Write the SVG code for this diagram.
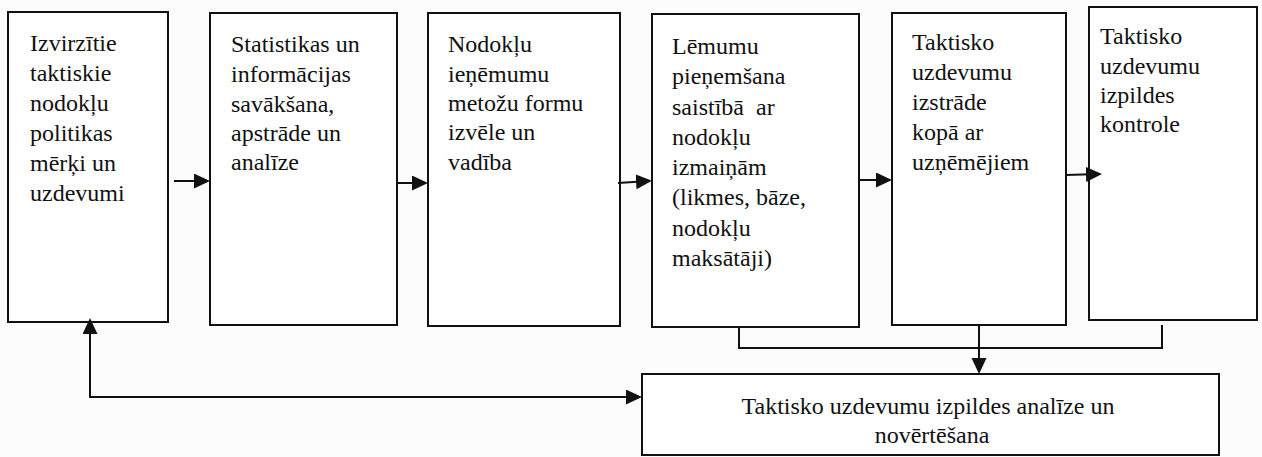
<svg xmlns="http://www.w3.org/2000/svg" width="1262" height="457" viewBox="0 0 1262 457">
  <style>
    .box { fill: #ffffff; stroke: #111111; stroke-width: 2; }
    .lbl { font-family: 'Liberation Serif', Tinos, 'Times New Roman', 'DejaVu Serif', serif; font-size: 24px; fill: #111111; }
    .wire { fill: none; stroke: #111111; stroke-width: 2; }
  </style>
  <defs>
    <marker id="head" markerUnits="userSpaceOnUse" markerWidth="16" markerHeight="16" refX="13" refY="7.5" orient="auto-start-reverse">
      <path d="M0,0 L16,7.5 L0,15 Z" fill="#111111"/>
    </marker>
  </defs>

  <rect x="0" y="0" width="1262" height="457" fill="#fcfcfc"/>

  <g id="goals">
    <rect class="box" x="8" y="12" width="160" height="310"/>
    <text class="lbl">
      <tspan x="30" y="51">Izvirzītie</tspan>
      <tspan x="30" y="81">taktiskie</tspan>
      <tspan x="30" y="111">nodokļu</tspan>
      <tspan x="30" y="141">politikas</tspan>
      <tspan x="30" y="171">mērķi un</tspan>
      <tspan x="30" y="201">uzdevumi</tspan>
    </text>
  </g>

  <g id="statistics">
    <rect class="box" x="210" y="13" width="187" height="312"/>
    <text class="lbl">
      <tspan x="231" y="52">Statistikas un</tspan>
      <tspan x="231" y="82">informācijas</tspan>
      <tspan x="231" y="112">savākšana,</tspan>
      <tspan x="231" y="141">apstrāde un</tspan>
      <tspan x="231" y="170">analīze</tspan>
    </text>
  </g>

  <g id="methods">
    <rect class="box" x="428" y="13" width="192" height="313"/>
    <text class="lbl">
      <tspan x="448" y="52">Nodokļu</tspan>
      <tspan x="448" y="82">ieņēmumu</tspan>
      <tspan x="448" y="111">metožu formu</tspan>
      <tspan x="448" y="140">izvēle un</tspan>
      <tspan x="448" y="170">vadība</tspan>
    </text>
  </g>

  <g id="decisions">
    <rect class="box" x="652" y="14" width="207" height="313"/>
    <text class="lbl">
      <tspan x="672" y="54">Lēmumu</tspan>
      <tspan x="672" y="84">pieņemšana</tspan>
      <tspan x="672" y="115" xml:space="preserve">saistībā  ar</tspan>
      <tspan x="672" y="145">nodokļu</tspan>
      <tspan x="672" y="175">izmaiņām</tspan>
      <tspan x="672" y="205">(likmes, bāze,</tspan>
      <tspan x="672" y="236">nodokļu</tspan>
      <tspan x="672" y="266">maksātāji)</tspan>
    </text>
  </g>

  <g id="tasks">
    <rect class="box" x="892" y="13" width="174" height="312"/>
    <text class="lbl">
      <tspan x="912" y="50">Taktisko</tspan>
      <tspan x="912" y="80">uzdevumu</tspan>
      <tspan x="912" y="110">izstrāde</tspan>
      <tspan x="912" y="140">kopā ar</tspan>
      <tspan x="912" y="170">uzņēmējiem</tspan>
    </text>
  </g>

  <g id="control">
    <rect class="box" x="1089" y="7" width="168" height="313"/>
    <text class="lbl">
      <tspan x="1100" y="44">Taktisko</tspan>
      <tspan x="1100" y="74">uzdevumu</tspan>
      <tspan x="1100" y="103">izpildes</tspan>
      <tspan x="1100" y="132">kontrole</tspan>
    </text>
  </g>

  <g id="evaluation">
    <rect class="box" x="642" y="374" width="577" height="81"/>
    <text class="lbl" text-anchor="middle">
      <tspan x="931" y="414">Taktisko uzdevumu izpildes analīze un</tspan>
      <tspan x="932" y="443">novērtēšana</tspan>
    </text>
  </g>

  <g id="connectors">
    <!-- forward flow along the top row -->
    <path class="wire" d="M174,181 L207,181" marker-end="url(#head)"/>
    <path class="wire" d="M397,183 L425,183" marker-end="url(#head)"/>
    <path class="wire" d="M618,183 L649,181" marker-end="url(#head)"/>
    <path class="wire" d="M859,180 L889,180" marker-end="url(#head)"/>
    <path class="wire" d="M1066,175 L1099,174" marker-end="url(#head)"/>
    <!-- results gathered into the evaluation box -->
    <path class="wire" d="M739,327 L739,348 L1162,348 L1162,325"/>
    <path class="wire" d="M979,325 L979,371" marker-end="url(#head)"/>
    <!-- feedback loop between evaluation and goals -->
    <path class="wire" d="M90,321 L90,397 L639,397" marker-start="url(#head)" marker-end="url(#head)"/>
  </g>
</svg>
